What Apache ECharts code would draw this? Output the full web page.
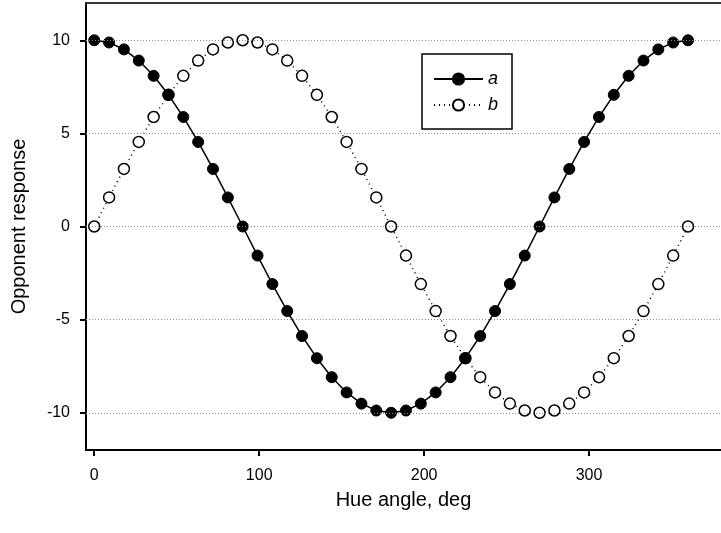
<!DOCTYPE html>
<html>
<head>
<meta charset="utf-8">
<script src="https://cdn.jsdelivr.net/npm/echarts@6/dist/echarts.min.js"></script>
<style>html,body{margin:0;padding:0;background:#fff}#c{width:721px;height:533px}</style>
</head>
<body>
<div id="c"></div>
<script>
const hueAngle = [0,9,18,27,36,45,54,63,72,81,90,99,108,117,126,135,144,153,162,171,180,189,198,207,216,225,234,243,252,261,270,279,288,297,306,315,324,333,342,351,360];
const seriesA = [10,9.88,9.51,8.91,8.09,7.07,5.88,4.54,3.09,1.56,0,-1.56,-3.09,-4.54,-5.88,-7.07,-8.09,-8.91,-9.51,-9.88,-10,-9.88,-9.51,-8.91,-8.09,-7.07,-5.88,-4.54,-3.09,-1.56,0,1.56,3.09,4.54,5.88,7.07,8.09,8.91,9.51,9.88,10];
const seriesB = [0,1.56,3.09,4.54,5.88,7.07,8.09,8.91,9.51,9.88,10,9.88,9.51,8.91,8.09,7.07,5.88,4.54,3.09,1.56,0,-1.56,-3.09,-4.54,-5.88,-7.07,-8.09,-8.91,-9.51,-9.88,-10,-9.88,-9.51,-8.91,-8.09,-7.07,-5.88,-4.54,-3.09,-1.56,0];
const xTicks = [0,100,200,300];
const yTicks = [-10,-5,0,5,10];

const pairs = (xs, ys) => xs.map((x, i) => [x, ys[i]]);
const font = 'Liberation Sans, Arial, sans-serif';
const chart = echarts.init(document.getElementById('c'), null, {renderer: 'canvas'});
chart.setOption({
  animation: false,
  backgroundColor: '#fff',
  grid: {left: 86, top: 3, bottom: 83, right: 0, show: false, containLabel: false},
  xAxis: [{
    type: 'value', min: -5, max: 380,
    name: 'Hue angle, deg', nameLocation: 'middle', nameGap: 40,
    nameTextStyle: {fontFamily: font, fontSize: 20, color: '#000'},
    axisLine: {show: true, onZero: false, lineStyle: {color: '#000', width: 2}},
    axisTick: {show: true, customValues: xTicks, length: 6, lineStyle: {color: '#000', width: 2}},
    axisLabel: {customValues: xTicks, fontFamily: font, fontSize: 16, color: '#000', margin: 18},
    splitLine: {show: false}
  }, {
    type: 'value', min: -5, max: 380, position: 'top',
    axisLine: {show: true, onZero: false, lineStyle: {color: '#333', width: 2}},
    axisTick: {show: false}, axisLabel: {show: false}, splitLine: {show: false}
  }],
  yAxis: {
    type: 'value', min: -12, max: 12,
    name: 'Opponent response', nameLocation: 'middle', nameGap: 57,
    nameTextStyle: {fontFamily: font, fontSize: 20, color: '#000'},
    axisLine: {show: true, onZero: false, lineStyle: {color: '#000', width: 2}},
    axisTick: {show: true, customValues: yTicks, length: 6, lineStyle: {color: '#000', width: 2}},
    axisLabel: {customValues: yTicks, fontFamily: font, fontSize: 16, color: '#000', margin: 16},
    splitLine: {show: false}
  },
  legend: {
    data: ['a', 'b'], orient: 'vertical', left: 422, top: 54,
    padding: [16, 14, 15, 11], itemGap: 8, itemWidth: 49, itemHeight: 14,
    borderColor: '#000', borderWidth: 1.5, backgroundColor: '#fff',
    textStyle: {fontFamily: font, fontSize: 18, fontStyle: 'italic', color: '#000'}
  },
  series: [
    {
      name: 'grid', type: 'line', data: pairs(hueAngle, seriesA), z: 0,
      symbol: 'none', lineStyle: {opacity: 0}, silent: true,
      markLine: {
        silent: true, symbol: 'none', label: {show: false},
        lineStyle: {color: '#888', type: [1, 2], width: 1},
        data: yTicks.map(v => ({yAxis: v}))
      }
    },
    {
      name: 'a', type: 'line', data: pairs(hueAngle, seriesA), z: 3,
      symbol: 'circle', symbolSize: 11,
      lineStyle: {color: '#000', width: 1.5},
      itemStyle: {color: '#000', borderColor: '#000', borderWidth: 1}
    },
    {
      name: 'b', type: 'line', data: pairs(hueAngle, seriesB), z: 2,
      symbol: 'circle', symbolSize: 11,
      lineStyle: {color: '#000', width: 1.5, type: [1, 4]},
      itemStyle: {color: '#fff', borderColor: '#000', borderWidth: 1.5}
    }
  ]
});
</script>
</body>
</html>
